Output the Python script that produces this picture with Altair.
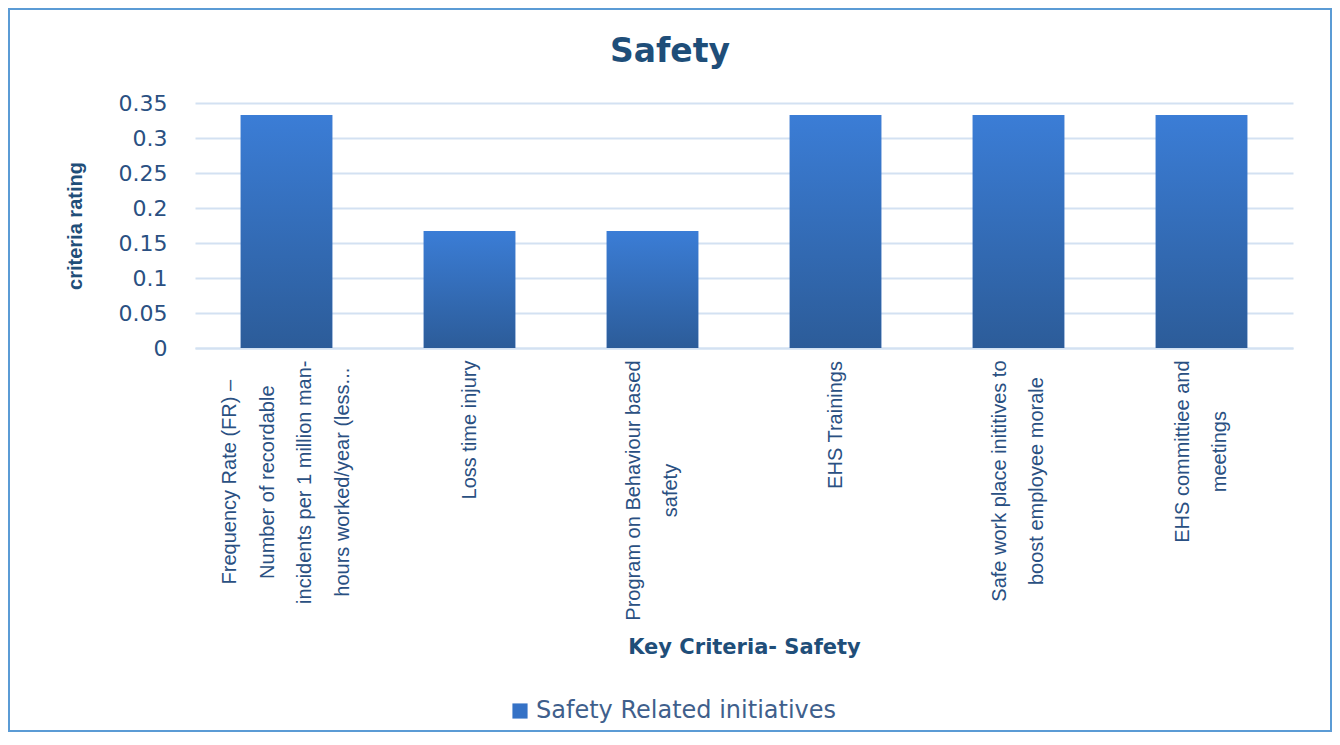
import altair as alt
import pandas as pd

categories = [
    "Frequency Rate (FR) –|Number of recordable|incidents per 1 million man-|hours worked/year (less...",
    "Loss time injury",
    "Program on Behaviour based|safety",
    "EHS Trainings",
    "Safe work place inititives to|boost employee morale",
    "EHS committiee and|meetings",
]
values = [0.333, 0.167, 0.167, 0.333, 0.333, 0.333]
series_name = "Safety Related initiatives"
y_ticks = [0, 0.05, 0.1, 0.15, 0.2, 0.25, 0.3, 0.35]
chart_title = "Safety"

df = pd.DataFrame({"criteria": categories, "rating": values, "series": [series_name] * len(values)})

W, H = 1098, 245
TXT = "#1f4e79"
GRID = "#d3e1f2"
LH = 37.5
LABEL_SIZE = 20

# Arial / Liberation Sans advance widths (per 1000 em) used to centre the wrapped label blocks
_w = {}
_w.update({c: v for c, v in zip("abcdefghijklmnopqrstuvwxyz",
    [556, 556, 500, 556, 556, 278, 556, 556, 222, 222, 500, 222, 833, 556, 556, 556, 556, 333, 500, 278, 556, 500, 722, 500, 500, 500])})
_w.update({c: v for c, v in zip("ABCDEFGHIJKLMNOPQRSTUVWXYZ",
    [667, 667, 722, 722, 667, 611, 778, 722, 278, 500, 667, 556, 833, 722, 778, 667, 778, 722, 667, 611, 722, 667, 944, 667, 667, 611])})
_w.update({" ": 278, "(": 333, ")": 333, "–": 556, "-": 333, "/": 278, ".": 278})


def text_width(s):
    return sum(_w.get(ch, 556) for ch in s) * LABEL_SIZE / 1000


pad_conditions = []
off_conditions = []
for c in categories:
    lines = c.split("|")
    longest = max(text_width(s) for s in lines)
    pad_conditions.append({"test": f"datum.value == '{c}'", "value": 12 + longest / 2})
    off_conditions.append({"test": f"datum.value == '{c}'", "value": -(len(lines) - 1) / 2 * LH})

x_enc = alt.X(
    "criteria:N",
    sort=None,
    scale=alt.Scale(paddingInner=0.5, paddingOuter=0.25),
    axis=alt.Axis(
        title="Key Criteria- Safety",
        labelExpr="split(datum.label, '|')",
        labelAngle=-90,
        labelAlign="center",
        labelBaseline="middle",
        labelPadding={"condition": pad_conditions, "value": 12},
        labelOffset={"condition": off_conditions, "value": 0},
        labelFont="Liberation Sans",
        labelFontSize=LABEL_SIZE,
        labelLineHeight=LH,
        labelLimit=400,
        labelColor="#2a5082",
        labelOverlap=False,
        ticks=False,
        domainColor=GRID,
        domainWidth=2,
        titleFont="DejaVu Sans",
        titleFontWeight="bold",
        titleFontSize=21,
        titleColor=TXT,
        titleY=299,
        titleBaseline="middle",
    ),
)
y_enc = alt.Y(
    "rating:Q",
    scale=alt.Scale(domain=[0, 0.35]),
    axis=alt.Axis(
        title="criteria rating",
        values=y_ticks,
        labelExpr="datum.value == 0 ? '0' : format(datum.value, '.2~f')",
        labelFont="DejaVu Sans",
        labelFontSize=22,
        labelColor="#2a5082",
        labelPadding=28,
        labelOverlap=False,
        ticks=False,
        domain=False,
        gridColor=GRID,
        gridWidth=2,
        titleFont="Liberation Sans",
        titleFontWeight="bold",
        titleFontSize=20,
        titleColor=TXT,
        titleX=-120,
        titleY=122.5,
        titleAlign="center",
        titleBaseline="middle",
    ),
)

base = alt.Chart(df)

legend_bars = base.mark_bar().encode(
    x=x_enc,
    y=y_enc,
    color=alt.Color(
        "series:N",
        scale=alt.Scale(range=["#3572c6"]),
        legend=alt.Legend(
            title=None,
            orient="none",
            legendX=313,
            legendY=596,
            symbolType="square",
            symbolSize=230,
            symbolStrokeWidth=0,
            labelFont="DejaVu Sans",
            labelFontSize=24,
            labelColor="#3f5f8c",
            labelLimit=500,
        ),
    ),
)

grad = alt.Gradient(
    gradient="linear",
    stops=[
        alt.GradientStop(color="#3b7dd6", offset=0),
        alt.GradientStop(color="#2c5c99", offset=1),
    ],
    x1=0, x2=0, y1=0, y2=1,
)
grad_bars = base.mark_bar(color=grad).encode(x=x_enc, y=y_enc)

border = alt.Chart(alt.Data(values=[{}])).mark_rect(
    fill=None, stroke="#5b9bd5", strokeWidth=2
).encode(
    x=alt.value(-186), x2=alt.value(1136), y=alt.value(-94), y2=alt.value(628)
)

title_mark = alt.Chart(alt.Data(values=[{"t": chart_title}])).mark_text(
    font="DejaVu Sans", fontSize=33, fontWeight="bold", color=TXT,
    align="center", baseline="middle"
).encode(
    text="t:N", x=alt.value(475), y=alt.value(-51)
)

chart = alt.layer(border, legend_bars, grad_bars, title_mark).properties(
    width=W,
    height=H,
    autosize=alt.AutoSizeParams(type="none"),
    padding={"left": 187, "top": 95, "right": 39, "bottom": 385},
).configure_view(stroke=None)

chart.save("out.html", embed_options={"renderer": "svg", "actions": False})
